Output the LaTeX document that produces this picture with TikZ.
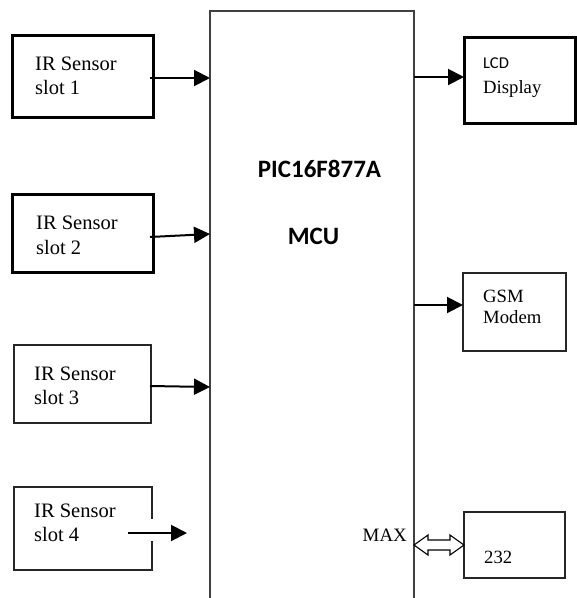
\documentclass[tikz,border=0pt]{standalone}
\usepackage{fontspec}
\setmainfont{Liberation Serif}
\newfontfamily\calib{Carlito}
\usetikzlibrary{arrows.meta,calc}
\begin{document}
\begin{tikzpicture}[x=1pt,y=-1pt,
  thickbox/.style={draw=black,line width=3pt,inner sep=0pt,outer sep=0pt},
  thinbox/.style={draw=black!85,line width=1.3pt,inner sep=0pt,outer sep=0pt},
  lbl/.style={anchor=base west,inner sep=0pt,font=\fontsize{20.5}{24}\selectfont},
  rlbl/.style={anchor=base west,inner sep=0pt,font=\fontsize{18.7}{22}\selectfont},
  arr/.style={line width=2pt,-{Triangle[length=16pt,width=16pt]}}]
\useasboundingbox (0,0) rectangle (577,598);
% MCU
\node[inner sep=0pt,outer sep=0pt,minimum width=204pt,minimum height=590pt] (mcu) at (312,306) {};
\draw[line width=1.5pt,black!75] (mcu.south west) -- (mcu.north west) -- (mcu.north east) -- (mcu.south east);
\node[anchor=base,inner sep=0pt,font=\calib\bfseries\fontsize{25}{30}\selectfont] (pic) at (319.5,177) {PIC16F877A};
\node[anchor=base,inner sep=0pt,font=\calib\bfseries\fontsize{25}{30}\selectfont] (mcut) at (313.5,244) {MCU};
% sensor boxes
\node[thickbox,minimum width=141pt,minimum height=82pt] (s1) at (82.5,76) {};
\node[thickbox,minimum width=141pt,minimum height=78pt] (s2) at (82.5,233) {};
\node[thinbox,minimum width=137pt,minimum height=78pt] (s3) at (82.5,384) {};
\node[inner sep=0pt,outer sep=0pt,minimum width=138pt,minimum height=83pt] (s4) at (83,528.5) {};
\draw[line width=1.3pt,black!85] ($(s4.north east)+(0,32)$) -- (s4.north east) -- (s4.north west) -- (s4.south west) -- (s4.south east) -- ($(s4.south east)+(0,-29)$);
\node[lbl] (t1a) at (35,70) {IR Sensor};
\node[lbl] (t1b) at (35,94) {slot 1};
\node[lbl] (t2a) at (36,229) {IR Sensor};
\node[lbl] (t2b) at (36,254) {slot 2};
\node[lbl] (t3a) at (34,380) {IR Sensor};
\node[lbl] (t3b) at (34,404) {slot 3};
\node[lbl] (t4a) at (34,517) {IR Sensor};
\node[lbl] (t4b) at (34,541) {slot 4};
% right boxes
\node[thickbox,minimum width=111pt,minimum height=86pt] (lcd) at (519.5,80) {};
\node[thinbox,minimum width=103pt,minimum height=78pt] (gsm) at (514.5,312) {};
\node[thinbox,minimum width=101pt,minimum height=66pt] (mx) at (514.5,545) {};
\node[anchor=base west,inner sep=0pt,font=\calib\fontsize{16.5}{19}\selectfont] (lcdt) at (483,68) {LCD};
\node[rlbl] (dispt) at (483,93) {Display};
\node[rlbl] (gsmt) at (483,302) {GSM};
\node[rlbl] (modt) at (483,323) {Modem};
\node[anchor=base east,inner sep=0pt,font=\fontsize{18.9}{22}\selectfont] (maxt) at (407,541) {MAX};
\node[rlbl] (n232) at (484,563) {232};
% arrows
\draw[arr] ($(s1.east)+(-3,2)$) -- ($(mcu.west |- s1.east)+(0,2)$);
\draw[arr] ($(s2.east)+(-3,4)$) -- ($(mcu.west |- s2.east)+(0,1)$);
\draw[arr] ($(s3.east)+(-1,2)$) -- ($(mcu.west |- s3.east)+(0,3)$);
\coordinate (a4s) at (128,533);
\coordinate (a4e) at (187,533);
\draw[arr] (a4s) -- (a4e);
\draw[arr] (mcu.east |- 0,77) -- (lcd.west |- 0,77);
\draw[arr] (mcu.east |- 0,305) -- (gsm.west |- 0,305);
% double arrow
\coordinate (A) at (mcu.east |- mx.west);
\coordinate (B) at (mx.west);
\draw[line width=1.1pt,fill=white] (A) -- ($(A)+(14,-10)$) -- ($(A)+(14,-5)$) -- ($(B)+(-14,-5)$) -- ($(B)+(-14,-10)$) -- (B) -- ($(B)+(-14,10)$) -- ($(B)+(-14,5)$) -- ($(A)+(14,5)$) -- ($(A)+(14,10)$) -- cycle;
\end{tikzpicture}
\end{document}
